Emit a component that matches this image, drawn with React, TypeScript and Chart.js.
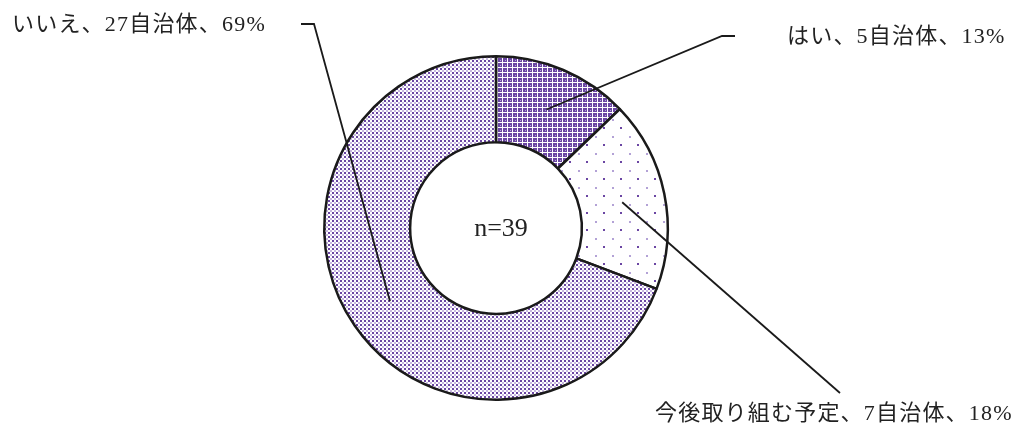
import React, { useEffect, useRef } from "react";
import { Chart, registerables } from "chart.js";

Chart.register(...registerables);

const categories = ["はい", "今後取り組む予定", "いいえ"];
const counts = [5, 7, 27];
const percents = ["13%", "18%", "69%"];
const total = 39;

const PURPLE = "#6B46A3";

function makePattern(kind: number): CanvasPattern | string {
  const c = document.createElement("canvas");
  const ctx = c.getContext("2d");
  if (!ctx) return PURPLE;
  if (kind === 0) {
    c.width = 5;
    c.height = 5;
    ctx.fillStyle = PURPLE;
    ctx.fillRect(0, 0, 5, 5);
    ctx.fillStyle = "#ffffff";
    ctx.fillRect(0, 2, 5, 1);
    ctx.fillRect(2, 0, 1, 5);
    ctx.fillStyle = "#b9a6d6";
    ctx.fillRect(0, 0, 1, 1);
  } else if (kind === 1) {
    c.width = 17;
    c.height = 17;
    ctx.fillStyle = "#ffffff";
    ctx.fillRect(0, 0, 17, 17);
    ctx.fillStyle = "#b3a2d6";
    ctx.fillRect(0, 0, 2, 2);
    ctx.fillStyle = PURPLE;
    ctx.fillRect(8, 8, 2, 2);
  } else {
    c.width = 4;
    c.height = 4;
    ctx.fillStyle = "#ffffff";
    ctx.fillRect(0, 0, 4, 4);
    ctx.fillStyle = PURPLE;
    ctx.fillRect(0, 0, 2, 2);
    ctx.fillStyle = "#c7b8e0";
    ctx.fillRect(2, 2, 2, 2);
  }
  return ctx.createPattern(c, "repeat") || PURPLE;
}

const FONT = '22px "Liberation Serif", "Noto Sans CJK JP", serif';

// label layout: text position and leader-line points before the segment centre
const labelLayout: { x: number; y: number; path: number[][] }[] = [
  { x: 787, y: 37, path: [[735, 36], [722, 36]] },
  { x: 655, y: 414, path: [[840, 393]] },
  { x: 12, y: 25, path: [[301, 24], [314, 24]] },
];

export default function App() {
  const ref = useRef<HTMLCanvasElement | null>(null);
  useEffect(() => {
    if (!ref.current) return;
    const overlay = {
      id: "overlay",
      afterDraw(chart: any) {
        const ctx = chart.ctx as CanvasRenderingContext2D;
        const meta = chart.getDatasetMeta(0);
        ctx.save();
        ctx.strokeStyle = "#1a1a1a";
        ctx.lineWidth = 1.8;
        meta.data.forEach((arc: any, i: number) => {
          const p = arc.getCenterPoint();
          const lay = labelLayout[i];
          ctx.beginPath();
          ctx.moveTo(lay.path[0][0], lay.path[0][1]);
          for (let k = 1; k < lay.path.length; k++) ctx.lineTo(lay.path[k][0], lay.path[k][1]);
          ctx.lineTo(p.x, p.y);
          ctx.stroke();
          ctx.fillStyle = "#222";
          ctx.font = FONT;
          (ctx as any).letterSpacing = "1.2px";
          ctx.textAlign = "left";
          ctx.textBaseline = "middle";
          ctx.fillText(`${categories[i]}、${counts[i]}自治体、${percents[i]}`, lay.x, lay.y);
        });
        (ctx as any).letterSpacing = "0px";
        const c0 = meta.data[0];
        ctx.font = '26px "Liberation Serif", serif';
        ctx.textAlign = "center";
        ctx.textBaseline = "middle";
        ctx.fillStyle = "#222";
        ctx.fillText(`n=${total}`, c0.x + 5, c0.y + 1);
        ctx.restore();
      },
    };
    const chart = new Chart(ref.current, {
      type: "doughnut",
      data: {
        labels: categories,
        datasets: [
          {
            data: counts,
            backgroundColor: [makePattern(0), makePattern(1), makePattern(2)],
            borderColor: "#1a1a1a",
            borderWidth: 2.5,
          },
        ],
      },
      options: {
        responsive: false,
        animation: false,
        cutout: "50%",
        layout: { padding: { left: 322, right: 348, top: 55, bottom: 26 } },
        plugins: {
          legend: { display: false },
          tooltip: { enabled: false },
        },
      },
      plugins: [overlay],
    });
    return () => chart.destroy();
  }, []);
  return (
    <div style={{ position: "fixed", left: 0, top: 0, width: 1018, height: 427, background: "#fff" }}>
      <canvas ref={ref} width={1018} height={427} />
    </div>
  );
}
